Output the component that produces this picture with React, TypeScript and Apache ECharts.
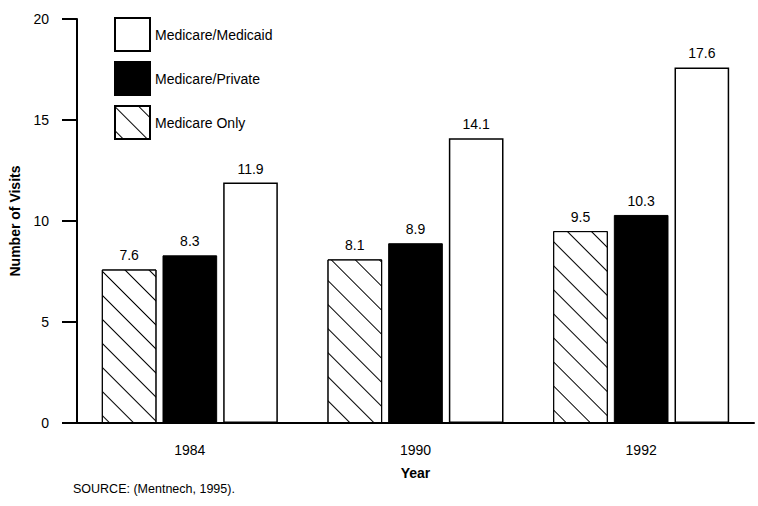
import React, { useEffect, useRef } from "react";
import * as echarts from "echarts";

const years = ["1984", "1990", "1992"];
const medicareOnly = [7.6, 8.1, 9.5];
const medicarePrivate = [8.3, 8.9, 10.3];
const medicareMedicaid = [11.9, 14.1, 17.6];
const yTicks = [0, 5, 10, 15, 20];

const FONT = "Liberation Sans, Arial, Helvetica, sans-serif";

export default function App() {
  const ref = useRef<HTMLDivElement>(null);
  useEffect(() => {
    document.body.style.margin = "0";
    if (!ref.current) return;
    const chart = echarts.init(ref.current, null, { renderer: "svg" });
    const label = {
      show: true,
      position: "top",
      distance: 7,
      color: "#000",
      fontSize: 14,
      fontFamily: FONT,
      formatter: (p: any) => Number(p.value).toFixed(1),
    };
    chart.setOption({
      animation: false,
      backgroundColor: "#fff",
      textStyle: { fontFamily: FONT, color: "#000" },
      grid: { left: 73, right: 4, top: 19, bottom: 83 },
      legend: {
        orient: "vertical",
        left: 114,
        top: 17,
        padding: 0,
        itemWidth: 35,
        itemHeight: 33,
        itemGap: 9,
        icon: "rect",
        textStyle: { fontSize: 14, color: "#000", fontFamily: FONT },
        data: ["Medicare/Medicaid", "Medicare/Private", "Medicare Only"],
      },
      xAxis: {
        type: "category",
        data: years,
        name: "Year",
        nameLocation: "middle",
        nameGap: 43,
        nameTextStyle: { fontWeight: "bold", fontSize: 14, color: "#000", fontFamily: FONT },
        axisLine: { lineStyle: { color: "#000", width: 2 } },
        axisTick: { alignWithLabel: true, length: 10, lineStyle: { color: "#000", width: 2 } },
        axisLabel: { color: "#000", fontSize: 14, margin: 20, fontFamily: FONT },
      },
      yAxis: {
        type: "value",
        min: yTicks[0],
        max: yTicks[yTicks.length - 1],
        interval: 5,
        name: "Number of Visits",
        nameLocation: "middle",
        nameGap: 55,
        nameTextStyle: { fontWeight: "bold", fontSize: 14, color: "#000", fontFamily: FONT },
        axisLine: { show: true, lineStyle: { color: "#000", width: 2 } },
        axisTick: { show: true, length: 15, lineStyle: { color: "#000", width: 2 } },
        axisLabel: { color: "#000", fontSize: 14, margin: 28, fontFamily: FONT },
        splitLine: { show: false },
      },
      series: [
        {
          name: "Medicare Only",
          type: "bar",
          data: medicareOnly,
          barGap: "11%",
          barCategoryGap: "22%",
          itemStyle: {
            color: "#fff",
            borderColor: "#000",
            borderWidth: 1,
            decal: {
              symbol: "rect",
              color: "#000",
              backgroundColor: "#fff",
              dashArrayX: [1, 0],
              dashArrayY: [1, 16],
              rotation: Math.PI / 4,
            },
          },
          label,
        },
        {
          name: "Medicare/Private",
          type: "bar",
          data: medicarePrivate,
          itemStyle: { color: "#000", borderColor: "#000", borderWidth: 1 },
          label,
        },
        {
          name: "Medicare/Medicaid",
          type: "bar",
          data: medicareMedicaid,
          itemStyle: { color: "#fff", borderColor: "#000", borderWidth: 1.5 },
          label,
        },
      ],
      graphic: [
        {
          type: "text",
          left: 73,
          top: 482,
          style: { text: "SOURCE: (Mentnech, 1995).", fontSize: 12.5, fill: "#000", fontFamily: FONT },
        },
      ],
    });
    return () => chart.dispose();
  }, []);
  return <div ref={ref} style={{ width: 758, height: 506 }} />;
}
